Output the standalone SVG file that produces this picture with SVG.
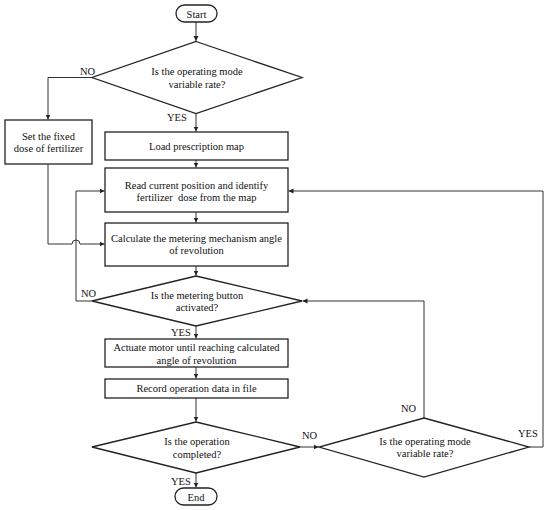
<svg xmlns="http://www.w3.org/2000/svg" width="550" height="510" viewBox="0 0 550 510">
<style>
.box{fill:#fff;stroke:#222;stroke-width:1.3}
.ln{fill:none;stroke:#333;stroke-width:1}
text{font-family:"Liberation Serif","Times New Roman",serif;font-size:10.5px;fill:#111;text-anchor:middle}
.lbl{text-anchor:start}
</style>
<defs>
<marker id="ah" markerWidth="6" markerHeight="6" refX="5" refY="3" orient="auto" markerUnits="userSpaceOnUse">
<path d="M0,0.5 L5,3 L0,5.5 Z" fill="#222"/>
</marker>
</defs>
<rect width="550" height="510" fill="#fff"/>
<g id="connectors">
<path class="ln" d="M196,22 V41" marker-end="url(#ah)"/>
<path class="ln" d="M92,77.5 H48 V119.5" marker-end="url(#ah)"/>
<path class="ln" d="M196,113.5 V131.5" marker-end="url(#ah)"/>
<path class="ln" d="M196,160 V167.5" marker-end="url(#ah)"/>
<path class="ln" d="M196,212 V222.5" marker-end="url(#ah)"/>
<path class="ln" d="M196,266 V275.5" marker-end="url(#ah)"/>
<path class="ln" d="M48,164 V244 H72 A4,4 0 0 1 80,244 H104.5" marker-end="url(#ah)"/>
<path class="ln" d="M92,301 H76 V191 H104.5" marker-end="url(#ah)"/>
<path class="ln" d="M196,326 V338.5" marker-end="url(#ah)"/>
<path class="ln" d="M196,367 V378.5" marker-end="url(#ah)"/>
<path class="ln" d="M196,398 V421.5" marker-end="url(#ah)"/>
<path class="ln" d="M196,473 V487.5" marker-end="url(#ah)"/>
<path class="ln" d="M300,447 H318.5" marker-end="url(#ah)"/>
<path class="ln" d="M424,418 V301 H302.5" marker-end="url(#ah)"/>
<path class="ln" d="M529,447 H543 V191 H288.5" marker-end="url(#ah)"/>
</g>
<g id="start">
<rect class="box" x="176" y="5" width="41" height="17" rx="8.5"/>
<text x="196.5" y="17.5">Start</text>
</g>
<g id="decision-mode">
<polygon class="box" points="196,41.5 302,77.5 196,113.5 92,77.5"/>
<text x="197" y="75">Is the operating mode</text>
<text x="197" y="88">variable rate?</text>
<text class="lbl" x="80" y="75">NO</text>
<text class="lbl" x="167" y="121">YES</text>
</g>
<g id="fixed-dose">
<rect class="box" x="5" y="120" width="87" height="44"/>
<text x="48.5" y="139.5">Set the fixed</text>
<text x="48.5" y="152">dose of fertilizer</text>
</g>
<g id="load-map">
<rect class="box" x="105" y="132" width="183" height="28"/>
<text x="196.5" y="149.5">Load prescription map</text>
</g>
<g id="read-position">
<rect class="box" x="105" y="168" width="183" height="44"/>
<text x="196.5" y="188.5">Read current position and identify</text>
<text x="196.5" y="201" xml:space="preserve">fertilizer  dose from the map</text>
</g>
<g id="calc-angle">
<rect class="box" x="105" y="223" width="183" height="43"/>
<text x="196.5" y="242">Calculate the metering mechanism angle</text>
<text x="196.5" y="254">of revolution</text>
</g>
<g id="decision-button">
<polygon class="box" points="196,276 302,301 196,326 92,301"/>
<text x="197" y="299">Is the metering button</text>
<text x="197" y="311">activated?</text>
<text class="lbl" x="81" y="297">NO</text>
<text class="lbl" x="171" y="336">YES</text>
</g>
<g id="actuate-motor">
<rect class="box" x="105" y="339" width="183" height="28"/>
<text x="196.5" y="351">Actuate motor until reaching calculated</text>
<text x="196.5" y="364">angle of revolution</text>
</g>
<g id="record-data">
<rect class="box" x="105" y="379" width="183" height="19"/>
<text x="196.5" y="392">Record operation data in file</text>
</g>
<g id="decision-completed">
<polygon class="box" points="196,422 300,447 196,473 92,447"/>
<text x="197" y="444.5">Is the operation</text>
<text x="197" y="457.5">completed?</text>
<text class="lbl" x="302" y="439">NO</text>
<text class="lbl" x="171" y="484.5">YES</text>
</g>
<g id="end">
<rect class="box" x="175" y="488" width="42" height="17" rx="8.5"/>
<text x="196" y="500.5">End</text>
</g>
<g id="decision-mode-2">
<polygon class="box" points="424,418 529,447 424,477 319,447"/>
<text x="425" y="444.5">Is the operating mode</text>
<text x="425" y="457">variable rate?</text>
<text class="lbl" x="401" y="411.5">NO</text>
<text class="lbl" x="518" y="437">YES</text>
</g>
</svg>
